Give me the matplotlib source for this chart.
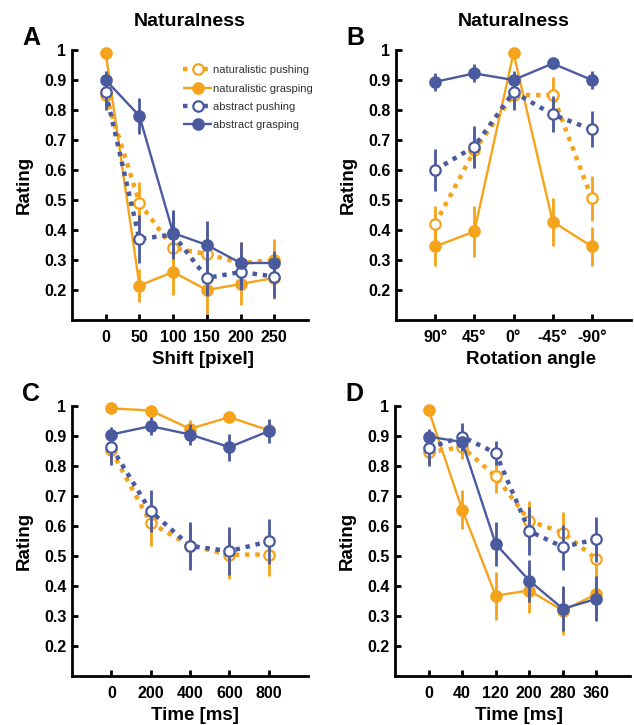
import matplotlib
matplotlib.use("Agg")
import matplotlib.pyplot as plt
import numpy as np

plt.rcParams['font.family'] = ['Liberation Sans', 'DejaVu Sans']
plt.rcParams['font.weight'] = 'bold'

ORANGE = '#F5A31A'
BLUE = '#4A5A9E'

series_names = ["naturalistic pushing", "naturalistic grasping",
                "abstract pushing", "abstract grasping"]

# Panel A: spatial shift
shift_labels = ["0", "50", "100", "150", "200", "250"]
a_nat_push = [0.85, 0.49, 0.34, 0.32, 0.29, 0.30]
a_nat_push_err = [0.04, 0.07, 0.05, 0.08, 0.07, 0.07]
a_nat_grasp = [0.99, 0.215, 0.26, 0.20, 0.22, 0.24]
a_nat_grasp_err = [0.01, 0.055, 0.075, 0.08, 0.07, 0.07]
a_abs_push = [0.86, 0.37, 0.385, 0.24, 0.26, 0.245]
a_abs_push_err = [0.06, 0.08, 0.08, 0.06, 0.06, 0.07]
a_abs_grasp = [0.90, 0.78, 0.39, 0.35, 0.29, 0.29]
a_abs_grasp_err = [0.03, 0.06, 0.07, 0.08, 0.07, 0.04]

# Panel B: rotation angle
angle_labels = ["90°", "45°", "0°", "-45°", "-90°"]
b_nat_push = [0.42, 0.665, 0.85, 0.85, 0.505]
b_nat_push_err = [0.06, 0.06, 0.04, 0.06, 0.075]
b_nat_grasp = [0.345, 0.395, 0.99, 0.428, 0.345]
b_nat_grasp_err = [0.065, 0.085, 0.01, 0.08, 0.065]
b_abs_push = [0.60, 0.678, 0.86, 0.785, 0.735]
b_abs_push_err = [0.07, 0.07, 0.06, 0.06, 0.06]
b_abs_grasp = [0.894, 0.922, 0.90, 0.955, 0.90]
b_abs_grasp_err = [0.03, 0.03, 0.03, 0.015, 0.03]

# Panel C: delay
delay_labels = ["0", "200", "400", "600", "800"]
c_nat_push = [0.852, 0.61, 0.535, 0.504, 0.505]
c_nat_push_err = [0.04, 0.075, 0.07, 0.08, 0.07]
c_nat_grasp = [0.992, 0.985, 0.924, 0.963, 0.919]
c_nat_grasp_err = [0.01, 0.01, 0.03, 0.01, 0.02]
c_abs_push = [0.863, 0.649, 0.534, 0.516, 0.549]
c_abs_push_err = [0.06, 0.07, 0.08, 0.08, 0.075]
c_abs_grasp = [0.905, 0.933, 0.905, 0.863, 0.916]
c_abs_grasp_err = [0.025, 0.03, 0.035, 0.045, 0.04]

# Panel D: time
time_labels = ["0", "40", "120", "200", "280", "360"]
d_nat_push = [0.846, 0.863, 0.766, 0.617, 0.578, 0.49]
d_nat_push_err = [0.04, 0.04, 0.055, 0.068, 0.068, 0.07]
d_nat_grasp = [0.987, 0.655, 0.368, 0.385, 0.318, 0.373]
d_nat_grasp_err = [0.01, 0.065, 0.08, 0.075, 0.08, 0.085]
d_abs_push = [0.86, 0.898, 0.843, 0.583, 0.53, 0.556]
d_abs_push_err = [0.06, 0.045, 0.04, 0.08, 0.075, 0.075]
d_abs_grasp = [0.898, 0.88, 0.54, 0.418, 0.324, 0.357]
d_abs_grasp_err = [0.025, 0.03, 0.073, 0.07, 0.075, 0.075]

styles = [
    dict(color=ORANGE, ls=(0, (1.0, 1.3)), lw=3.2, mfc='white'),
    dict(color=ORANGE, ls='-', lw=1.7, mfc=ORANGE),
    dict(color=BLUE, ls=(0, (1.0, 1.3)), lw=3.2, mfc='white'),
    dict(color=BLUE, ls='-', lw=1.7, mfc=BLUE),
]

W, H = 634, 725
fig = plt.figure(figsize=(W / 100, H / 100), dpi=100)


def px_axes(left, top, width, height):
    return fig.add_axes([left / W, 1 - (top + height) / H, width / W, height / H])


def panel(ax, labels, data, xlabel, xlabel_x, letter, title=None, legend=False):
    n = len(labels)
    x = np.arange(n)
    handles = {}
    for k in [1, 0, 3, 2]:
        vals, errs = data[k]
        st = styles[k]
        ax.errorbar(x, vals, yerr=errs, fmt='none', ecolor=st['color'],
                    elinewidth=2.0, capsize=0, zorder=2 + k)
        line, = ax.plot(x, vals, linestyle=st['ls'], color=st['color'],
                        lw=st['lw'], marker='o', ms=7.5, mfc=st['mfc'],
                        mec=st['color'], mew=1.6, zorder=3 + k,
                        dash_capstyle='butt', solid_capstyle='butt',
                        clip_on=False)
        handles[k] = line
    ax.set_xlim(-1, n)
    ax.set_ylim(0.1, 1.0)
    ax.set_xticks(x)
    ax.set_xticklabels(labels)
    ax.set_yticks([0.2, 0.3, 0.4, 0.5, 0.6, 0.7, 0.8, 0.9, 1.0])
    ax.set_yticklabels(["0.2", "0.3", "0.4", "0.5", "0.6", "0.7", "0.8", "0.9", "1"])
    for s in ['top', 'right']:
        ax.spines[s].set_visible(False)
    for s in ['left', 'bottom']:
        ax.spines[s].set_linewidth(2.0)
    ax.tick_params(direction='in', length=4, width=2.0, labelsize=11.5, pad=4)
    ax.tick_params(axis='x', pad=7)
    for t in ax.get_xticklabels() + ax.get_yticklabels():
        t.set_fontweight('bold')
    ax.set_xlabel(xlabel, fontsize=13.5, fontweight='bold')
    ax.xaxis.set_label_coords(xlabel_x, -0.115)
    ax.set_ylabel("Rating", fontsize=13.5, fontweight='bold')
    ax.yaxis.set_label_coords(-0.165, 0.5)
    ax.text(-0.174, 1.044, letter, transform=ax.transAxes, fontsize=18,
            fontweight='bold', ha='center', va='center')
    if title:
        ax.text(0.5, 1.107, title, transform=ax.transAxes, fontsize=14,
                fontweight='bold', ha='center', va='center')
    if legend:
        hs = [handles[k] for k in range(4)]
        leg = ax.legend(hs, series_names, loc='upper right',
                        bbox_to_anchor=(1.04, 0.96), frameon=False,
                        prop=dict(size=8, weight='normal'), handlelength=2.6,
                        handletextpad=0.1, labelspacing=0.75, borderaxespad=0)
        for t in leg.get_texts():
            t.set_color('#333333')


axA = px_axes(72, 50, 236, 270)
axB = px_axes(396, 50, 235, 270)
axC = px_axes(72, 406, 236, 270)
axD = px_axes(395, 406, 235, 270)

panel(axA, shift_labels,
      [(a_nat_push, a_nat_push_err), (a_nat_grasp, a_nat_grasp_err),
       (a_abs_push, a_abs_push_err), (a_abs_grasp, a_abs_grasp_err)],
      "Shift [pixel]", 0.555, "A", title="Naturalness", legend=True)
panel(axB, angle_labels,
      [(b_nat_push, b_nat_push_err), (b_nat_grasp, b_nat_grasp_err),
       (b_abs_push, b_abs_push_err), (b_abs_grasp, b_abs_grasp_err)],
      "Rotation angle", 0.574, "B", title="Naturalness")
panel(axC, delay_labels,
      [(c_nat_push, c_nat_push_err), (c_nat_grasp, c_nat_grasp_err),
       (c_abs_push, c_abs_push_err), (c_abs_grasp, c_abs_grasp_err)],
      "Time [ms]", 0.52, "C")
panel(axD, time_labels,
      [(d_nat_push, d_nat_push_err), (d_nat_grasp, d_nat_grasp_err),
       (d_abs_push, d_abs_push_err), (d_abs_grasp, d_abs_grasp_err)],
      "Time [ms]", 0.528, "D")

fig.savefig("out.png", dpi=100)
